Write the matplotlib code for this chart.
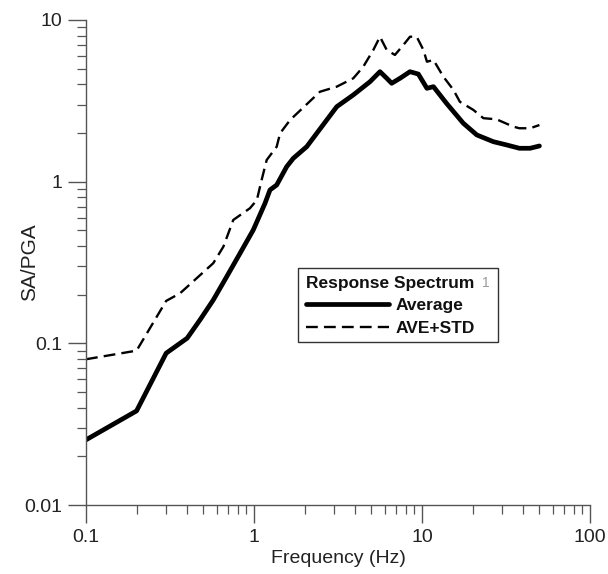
import matplotlib
matplotlib.use("Agg")
import matplotlib.pyplot as plt
from matplotlib.patches import Rectangle
from matplotlib.ticker import LogLocator, FixedLocator, FixedFormatter, NullFormatter

plt.rcParams['font.family'] = ['Liberation Sans', 'DejaVu Sans']

# Average spectrum (solid)
avg_freq = [0.1, 0.2, 0.3, 0.4, 0.477, 0.572, 0.688, 0.826, 0.99, 1.163, 1.245, 1.365,
            1.565, 1.714, 2.06, 2.71, 3.11, 3.90, 4.90, 5.62, 6.17, 6.60, 7.40, 8.48,
            9.51, 10.7, 11.7, 14.0, 17.6, 21.2, 26.6, 31.9, 38.0, 44.0, 50.0]
avg_val = [0.0253, 0.0382, 0.0869, 0.1076, 0.1396, 0.1853, 0.2585, 0.3606, 0.5027, 0.735,
           0.889, 0.954, 1.238, 1.395, 1.646, 2.407, 2.91, 3.44, 4.15, 4.79, 4.36, 4.06,
           4.36, 4.79, 4.63, 3.78, 3.87, 3.05, 2.30, 1.945, 1.767, 1.687, 1.609, 1.609, 1.663]

# Average + standard deviation (dashed)
std_freq = [0.1, 0.2, 0.3, 0.363, 0.572, 0.657, 0.753, 0.946, 1.04, 1.11, 1.19, 1.275,
            1.365, 1.43, 1.64, 2.47, 3.11, 3.90, 4.47, 5.13, 5.62, 6.17, 6.90, 7.74,
            8.48, 9.30, 10.2, 10.7, 11.7, 13.4, 15.4, 16.8, 20.2, 23.2, 27.8, 34.9,
            38.0, 44.0, 50.0]
std_val = [0.0797, 0.0901, 0.183, 0.204, 0.313, 0.396, 0.580, 0.685, 0.770, 1.024, 1.362,
           1.498, 1.646, 1.992, 2.407, 3.60, 3.87, 4.36, 5.14, 6.52, 7.88, 6.52, 6.08,
           7.00, 7.88, 7.88, 6.52, 5.52, 5.66, 4.46, 3.69, 3.12, 2.78, 2.47, 2.43, 2.19,
           2.14, 2.14, 2.24]

x_ticks = [0.1, 1, 10, 100]
x_ticklabels = ['0.1', '1', '10', '100']
y_ticks = [0.01, 0.1, 1, 10]
y_ticklabels = ['0.01', '0.1', '1', '10']

W, H = 608, 574
fig = plt.figure(figsize=(W / 100, H / 100), dpi=100)
ax = fig.add_axes([86 / W, 1 - 505 / H, (590 - 86) / W, (505 - 20) / H])

l1, = ax.plot(avg_freq, avg_val, color='black', lw=3.4, solid_joinstyle='round',
              solid_capstyle='round', label='Average')
l2, = ax.plot(std_freq, std_val, color='black', lw=1.7, dashes=(5, 2.6),
              label='AVE+STD')

ax.set_xscale('log')
ax.set_yscale('log')
ax.set_xlim(0.1, 100)
ax.set_ylim(0.01, 10)

ax.xaxis.set_major_locator(FixedLocator(x_ticks))
ax.xaxis.set_major_formatter(FixedFormatter(x_ticklabels))
ax.yaxis.set_major_locator(FixedLocator(y_ticks))
ax.yaxis.set_major_formatter(FixedFormatter(y_ticklabels))
ax.xaxis.set_minor_locator(LogLocator(base=10, subs=range(2, 10)))
ax.yaxis.set_minor_locator(LogLocator(base=10, subs=range(2, 10)))
ax.xaxis.set_minor_formatter(NullFormatter())
ax.yaxis.set_minor_formatter(NullFormatter())

spine_c = '#555555'
for s in ['top', 'right']:
    ax.spines[s].set_visible(False)
for s in ['left', 'bottom']:
    ax.spines[s].set_color(spine_c)
    ax.spines[s].set_linewidth(1.0)
ax.tick_params(which='major', direction='out', length=13, width=1.0, color=spine_c,
               labelsize=14, labelcolor='#222222', pad=4)
ax.tick_params(which='minor', direction='out', length=6.5, width=0.9, color=spine_c)

ax.set_xlabel('Frequency (Hz)', fontsize=14, color='#222222', labelpad=3)
ax.set_ylabel('SA/PGA', fontsize=15, color='#222222', va='center')
ax.yaxis.set_label_coords((30 - 86) / (590 - 86), 0.5)

leg = ax.legend(handles=[l1, l2], title='Response Spectrum', loc='upper left',
                bbox_to_anchor=(298 / W, 1 - 268 / H), bbox_transform=fig.transFigure,
                prop={'weight': 'bold', 'size': 12.5},
                title_fontproperties={'weight': 'bold', 'size': 12.5},
                alignment='left', frameon=False, handlelength=4.8, handletextpad=0.35,
                borderpad=0.45, labelspacing=0.42, borderaxespad=0)
for t in leg.get_texts():
    t.set_color('#111111')
leg.get_title().set_color('#111111')

fig.patches.append(Rectangle((298 / W, 1 - 342 / H), 200 / W, 74 / H,
                             transform=fig.transFigure, fill=False,
                             edgecolor='#333333', linewidth=1.0))
fig.text(482 / W, 1 - 283 / H, '1', fontsize=10, color='#999999', va='center', ha='left')

fig.savefig('out.png', dpi=100)
